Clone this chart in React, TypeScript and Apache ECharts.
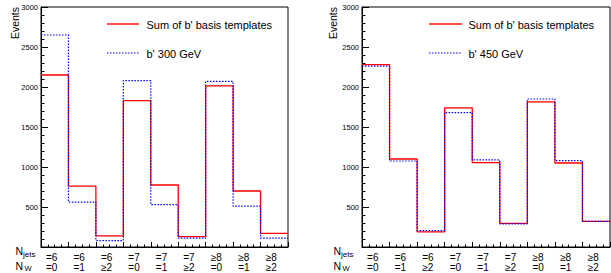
import React, { useEffect, useRef } from 'react';
import * as echarts from 'echarts';

// Bin labels
const njetsLabels = ['=6', '=6', '=6', '=7', '=7', '=7', '≥8', '≥8', '≥8'];
const nwLabels = ['=0', '=1', '≥2', '=0', '=1', '≥2', '=0', '=1', '≥2'];

// Left panel (b' 300 GeV)
const sumLeft = [2150, 760, 140, 1830, 775, 130, 2015, 700, 170];
const bp300 = [2650, 560, 80, 2080, 530, 110, 2070, 510, 110];

// Right panel (b' 450 GeV)
const sumRight = [2280, 1100, 190, 1740, 1055, 295, 1815, 1050, 320];
const bp450 = [2260, 1075, 205, 1680, 1090, 290, 1850, 1080, 320];

const legendSum = "Sum of b' basis templates";
const legendLeft = "b' 300 GeV";
const legendRight = "b' 450 GeV";

const FONT = '"Liberation Sans", Arial, sans-serif';

function stepData(v: number[]) {
  const d = v.map((y, i) => [i, y]);
  d.push([v.length, v[v.length - 1]]);
  return d;
}

function panelGraphics(dx: number, lx0: number, lx1: number, tx: number, name2: string) {
  const txt = (x: number, y: number, text: string, size: number, extra: any = {}) => ({
    type: 'text',
    x,
    y,
    style: { text, fill: '#000', font: `${size}px ${FONT}`, align: 'left', verticalAlign: 'middle', ...extra },
  });
  return [
    {
      type: 'text',
      x: 15 + dx,
      y: 7,
      rotation: Math.PI / 2,
      style: { text: 'Events', fill: '#000', font: `10.5px ${FONT}`, align: 'right', verticalAlign: 'middle' },
    },
    txt(15.5 + dx, 250.5, 'N', 10.5),
    txt(23 + dx, 254.5, 'jets', 8),
    txt(15.5 + dx, 266, 'N', 10.5),
    txt(24.5 + dx, 268, 'W', 7.5),
    {
      type: 'line',
      shape: { x1: lx0, y1: 24, x2: lx1, y2: 24 },
      style: { stroke: '#ff4d4d', lineWidth: 2 },
    },
    {
      type: 'line',
      shape: { x1: lx0, y1: 53, x2: lx1, y2: 53 },
      style: { stroke: '#0000ff', lineWidth: 1.2, lineDash: [1.5, 1.5] },
    },
    txt(tx, 24.5, legendSum, 11),
    txt(tx, 53.5, name2, 11),
  ];
}

export default function App() {
  const ref = useRef<HTMLDivElement>(null);
  useEffect(() => {
    if (!ref.current) return;
    const chart = echarts.init(ref.current, undefined, { renderer: 'svg' });
    const grids = [
      { left: 41, top: 7, width: 247, height: 240 },
      { left: 362, top: 7, width: 248, height: 240 },
    ];
    const xAxes: any[] = [];
    const yAxes: any[] = [];
    const labelAxis = (g: number, data: string[], margin: number) => ({
      type: 'category',
      gridIndex: g,
      position: 'bottom',
      offset: 0,
      data,
      boundaryGap: true,
      axisLine: { show: false },
      axisTick: { show: false },
      splitLine: { show: false },
      axisLabel: {
        show: true,
        interval: 0,
        margin,
        color: '#000',
        fontFamily: FONT,
        fontSize: 10,
        padding: [0, 6, 0, 0],
      },
    });
    grids.forEach((_, g) => {
      xAxes.push({
        type: 'value',
        gridIndex: g,
        min: 0,
        max: 9,
        interval: 1,
        position: 'bottom',
        axisLine: { show: true, lineStyle: { color: '#000', width: 1 } },
        axisTick: { show: true, inside: true, length: 5, lineStyle: { color: '#000' } },
        minorTick: { show: true, splitNumber: 4, length: 2.5, lineStyle: { color: '#000' } },
        axisLabel: { show: false },
        splitLine: { show: false },
      });
      xAxes.push(labelAxis(g, njetsLabels, 5.3));
      xAxes.push(labelAxis(g, nwLabels, 15.7));
      yAxes.push({
        type: 'value',
        gridIndex: g,
        min: 0,
        max: 3000,
        interval: 500,
        axisLine: { show: true, lineStyle: { color: '#000', width: 1 } },
        axisTick: { show: true, inside: true, length: 7, lineStyle: { color: '#000' } },
        minorTick: { show: true, splitNumber: 5, length: 3.5, lineStyle: { color: '#000' } },
        splitLine: { show: false },
        axisLabel: {
          color: '#000',
          fontFamily: FONT,
          fontSize: 7.5,
          margin: 3,
          formatter: (v: number) => (v === 0 ? '' : String(v)),
        },
      });
    });
    const mk = (name: string, data: number[], g: number, blue: boolean) => ({
      type: 'line',
      name,
      xAxisIndex: 3 * g,
      yAxisIndex: g,
      step: 'end',
      symbol: 'none',
      silent: true,
      z: blue ? 3 : 2,
      data: stepData(data),
      lineStyle: blue
        ? { color: '#0000ff', width: 1.2, type: [1.5, 1.5] }
        : { color: '#ff0000', width: 1.3 },
    });
    chart.setOption({
      animation: false,
      backgroundColor: '#fff',
      grid: grids.map((g) => ({ ...g, show: true, borderColor: '#000', borderWidth: 1, backgroundColor: 'transparent' })),
      xAxis: xAxes,
      yAxis: yAxes,
      series: [
        mk(legendSum, sumLeft, 0, false),
        mk(legendLeft, bp300, 0, true),
        mk(legendSum, sumRight, 1, false),
        mk(legendRight, bp450, 1, true),
      ],
      graphic: [
        ...panelGraphics(0, 107, 139, 146.5, legendLeft),
        ...panelGraphics(318, 429, 462, 468.5, legendRight),
      ],
    });
    return () => chart.dispose();
  }, []);
  return <div ref={ref} style={{ position: 'absolute', left: 0, top: 0, width: 611, height: 273 }} />;
}
